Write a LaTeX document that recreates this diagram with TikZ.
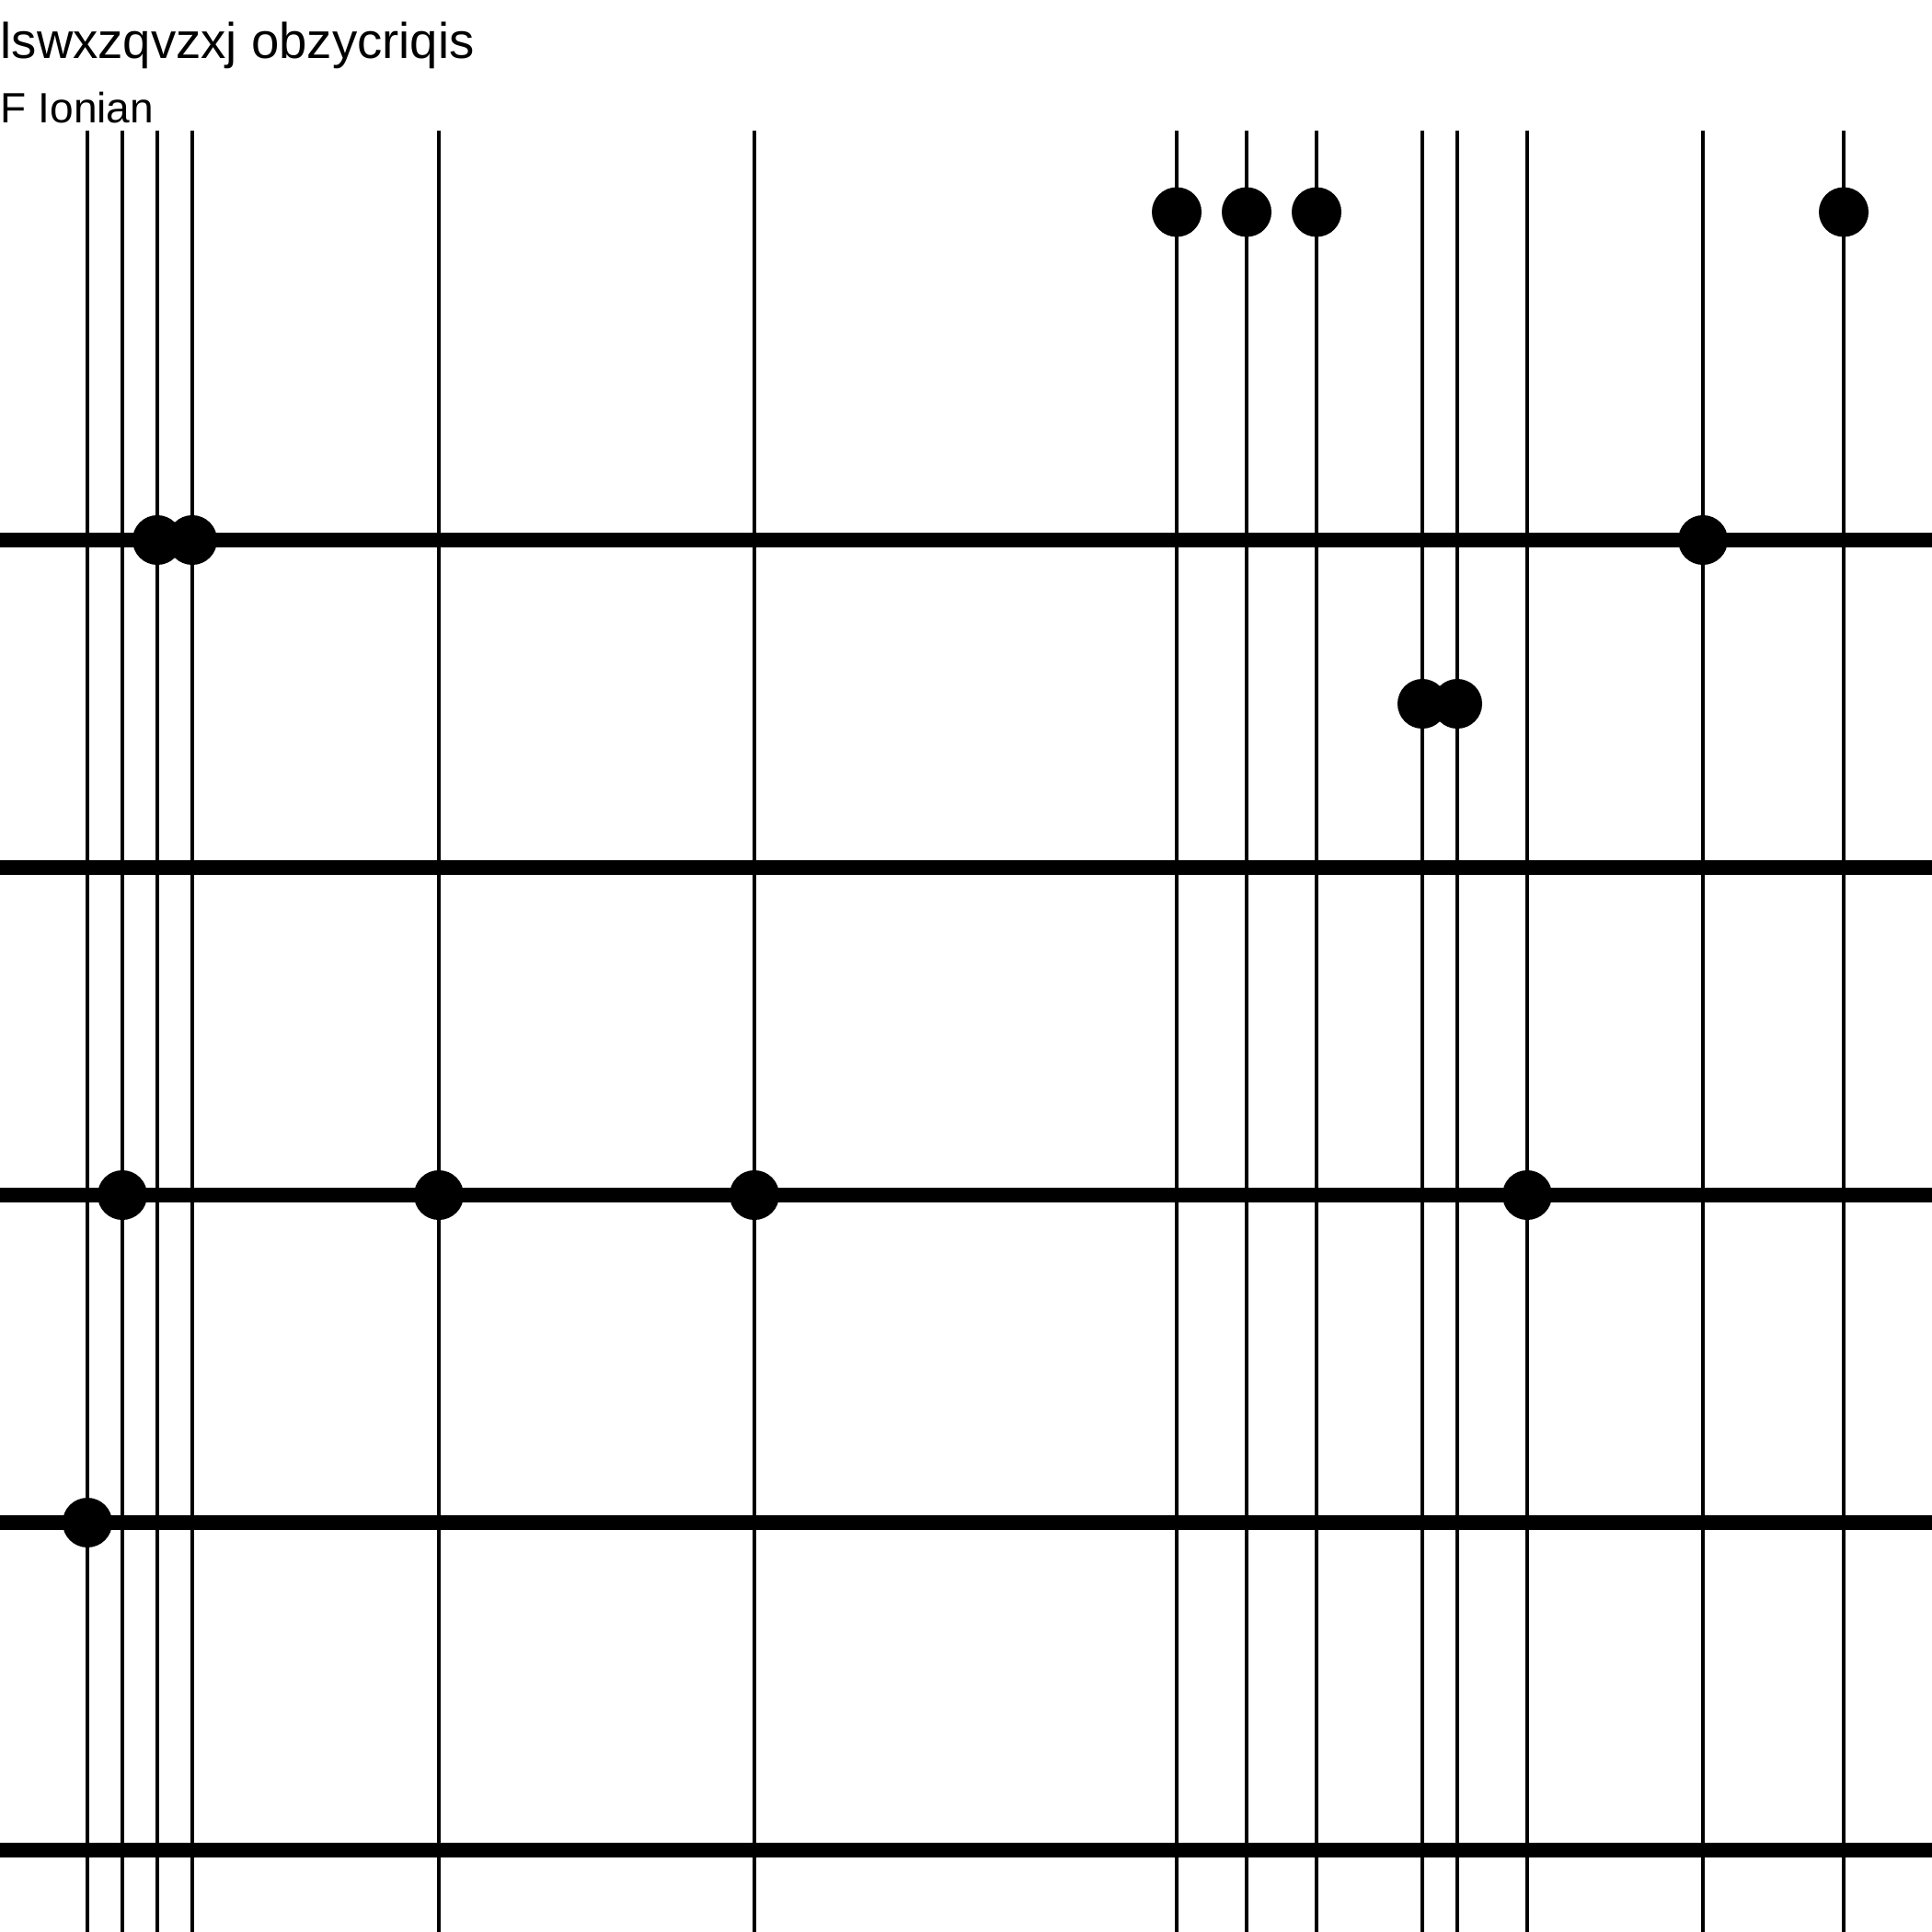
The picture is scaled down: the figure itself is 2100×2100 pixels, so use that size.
\documentclass[tikz,border=0pt]{standalone}
\usepackage{fontspec}
\setmainfont{Liberation Sans}
\begin{document}
\begin{tikzpicture}[x=0.01cm,y=-0.01cm,
  string/.style={line width=0.04cm,black},
  fret/.style={line width=0.16cm,black},
  dot/.style={circle,fill=black,inner sep=0pt,minimum size=0.54cm},
  lbl/.style={anchor=base west,inner sep=0pt,text=black}]
\useasboundingbox (0,0) rectangle (2100,2100);
% title
\node[lbl,font=\fontsize{15.5pt}{18pt}\selectfont] (title) at (0,63.3) {lswxzqvzxj obzycriqis};
\node[lbl,font=\fontsize{13.1pt}{16pt}\selectfont] (sub) at (0,133.3) {F Ionian};
% frets (horizontal)
\foreach \i/\y in {1/587,2/943,3/1299,4/1655,5/2011}{
  \coordinate (fL\i) at (0,\y);
  \coordinate (fR\i) at (2100,\y);
  \draw[fret] (fL\i) -- (fR\i);
}
% strings (vertical)
\foreach \i/\x in {1/95,2/133,3/171,4/209,5/477,6/820,7/1279,8/1355,9/1431,10/1546,11/1584,12/1660,13/1851,14/2004}{
  \coordinate (sT\i) at (\x,141.7);
  \coordinate (sB\i) at (\x,2100);
  \draw[string] (sT\i) -- (sB\i);
}
% dots
\node[dot] (d1) at (1279,230.5) {};
\node[dot] (d2) at (1355,230.5) {};
\node[dot] (d3) at (1431,230.5) {};
\node[dot] (d4) at (2004,230.5) {};
\node[dot] (d5) at (171,587) {};
\node[dot] (d6) at (209,587) {};
\node[dot] (d7) at (1851,587) {};
\node[dot] (d8) at (1546,765) {};
\node[dot] (d9) at (1584,765) {};
\node[dot] (d10) at (133,1299) {};
\node[dot] (d11) at (477,1299) {};
\node[dot] (d12) at (820,1299) {};
\node[dot] (d13) at (1660,1299) {};
\node[dot] (d14) at (95,1655) {};
\end{tikzpicture}
\end{document}
